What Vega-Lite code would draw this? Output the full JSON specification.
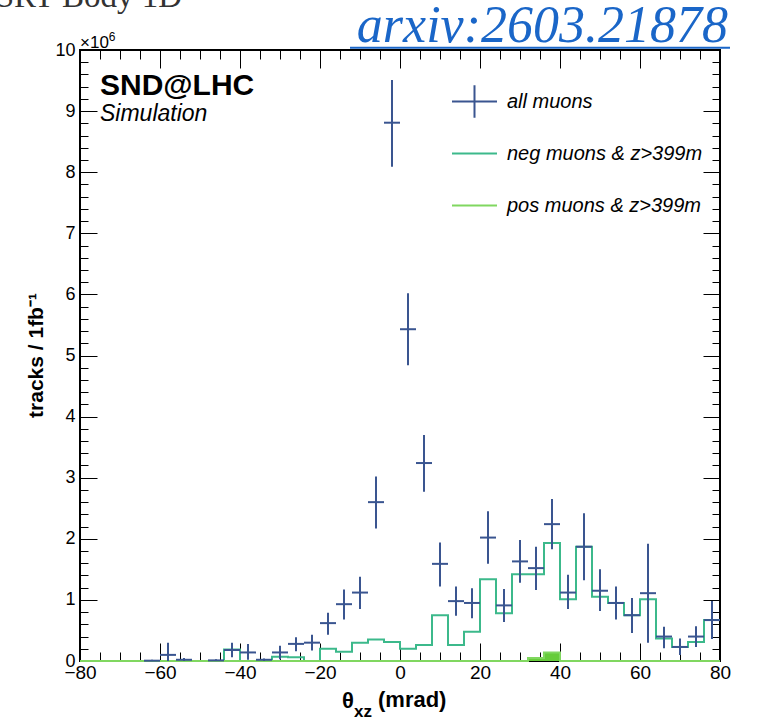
{
  "$schema": "https://vega.github.io/schema/vega-lite/v6.json",
  "width": 640,
  "height": 611,
  "autosize": "none",
  "padding": {"left": 80, "top": 50, "right": 45, "bottom": 60},
  "background": "white",
  "config": {
    "view": {"stroke": "black", "strokeWidth": 2},
    "font": "Liberation Sans",
    "axis": {"grid": false, "domain": false, "tickColor": "black", "tickWidth": 1, "labelColor": "black", "titleColor": "black", "labelFont": "Liberation Sans", "titleFont": "Liberation Sans"}
  },
  "datasets": {
    "allmu": [
      {"theta": -62, "tracks": 0.005, "lo": 0, "hi": 0.02, "x0": -64, "x1": -60},
      {"theta": -58, "tracks": 0.10, "lo": 0, "hi": 0.30, "x0": -60, "x1": -56},
      {"theta": -54, "tracks": 0.02, "lo": 0, "hi": 0.05, "x0": -56, "x1": -52},
      {"theta": -46, "tracks": 0.01, "lo": 0, "hi": 0.03, "x0": -48, "x1": -44},
      {"theta": -42, "tracks": 0.18, "lo": 0.06, "hi": 0.30, "x0": -44, "x1": -40},
      {"theta": -38, "tracks": 0.14, "lo": 0.02, "hi": 0.28, "x0": -40, "x1": -36},
      {"theta": -34, "tracks": 0.02, "lo": 0, "hi": 0.04, "x0": -36, "x1": -32},
      {"theta": -30, "tracks": 0.14, "lo": 0.03, "hi": 0.25, "x0": -32, "x1": -28},
      {"theta": -26, "tracks": 0.28, "lo": 0.16, "hi": 0.39, "x0": -28, "x1": -24},
      {"theta": -22, "tracks": 0.30, "lo": 0.17, "hi": 0.43, "x0": -24, "x1": -20},
      {"theta": -18, "tracks": 0.62, "lo": 0.43, "hi": 0.79, "x0": -20, "x1": -16},
      {"theta": -14, "tracks": 0.93, "lo": 0.68, "hi": 1.17, "x0": -16, "x1": -12},
      {"theta": -10, "tracks": 1.12, "lo": 0.85, "hi": 1.38, "x0": -12, "x1": -8},
      {"theta": -6, "tracks": 2.60, "lo": 2.17, "hi": 3.02, "x0": -8, "x1": -4},
      {"theta": -2, "tracks": 8.81, "lo": 8.09, "hi": 9.51, "x0": -4, "x1": 0},
      {"theta": 2, "tracks": 5.43, "lo": 4.84, "hi": 6.02, "x0": 0, "x1": 4},
      {"theta": 6, "tracks": 3.24, "lo": 2.77, "hi": 3.70, "x0": 4, "x1": 8},
      {"theta": 10, "tracks": 1.59, "lo": 1.22, "hi": 1.94, "x0": 8, "x1": 12},
      {"theta": 14, "tracks": 0.98, "lo": 0.74, "hi": 1.22, "x0": 12, "x1": 16},
      {"theta": 18, "tracks": 0.95, "lo": 0.70, "hi": 1.19, "x0": 16, "x1": 20},
      {"theta": 22, "tracks": 2.02, "lo": 1.59, "hi": 2.45, "x0": 20, "x1": 24},
      {"theta": 26, "tracks": 0.91, "lo": 0.64, "hi": 1.18, "x0": 24, "x1": 28},
      {"theta": 30, "tracks": 1.63, "lo": 1.28, "hi": 1.98, "x0": 28, "x1": 32},
      {"theta": 34, "tracks": 1.52, "lo": 1.16, "hi": 1.87, "x0": 32, "x1": 36},
      {"theta": 38, "tracks": 2.24, "lo": 1.83, "hi": 2.65, "x0": 36, "x1": 40},
      {"theta": 42, "tracks": 1.12, "lo": 0.85, "hi": 1.41, "x0": 40, "x1": 44},
      {"theta": 46, "tracks": 1.87, "lo": 1.32, "hi": 2.42, "x0": 44, "x1": 48},
      {"theta": 50, "tracks": 1.15, "lo": 0.82, "hi": 1.50, "x0": 48, "x1": 52},
      {"theta": 54, "tracks": 0.95, "lo": 0.68, "hi": 1.22, "x0": 52, "x1": 56},
      {"theta": 58, "tracks": 0.75, "lo": 0.46, "hi": 1.03, "x0": 56, "x1": 60},
      {"theta": 62, "tracks": 1.11, "lo": 0.30, "hi": 1.92, "x0": 60, "x1": 64},
      {"theta": 66, "tracks": 0.40, "lo": 0.21, "hi": 0.56, "x0": 64, "x1": 68},
      {"theta": 70, "tracks": 0.23, "lo": 0.10, "hi": 0.37, "x0": 68, "x1": 72},
      {"theta": 74, "tracks": 0.40, "lo": 0.23, "hi": 0.57, "x0": 72, "x1": 76},
      {"theta": 78, "tracks": 0.67, "lo": 0.36, "hi": 0.98, "x0": 76, "x1": 80}
    ],
    "neg": [
      {"edge": -80, "tracks": 0}, {"edge": -44, "tracks": 0.19}, {"edge": -40, "tracks": 0},
      {"edge": -32, "tracks": 0.07}, {"edge": -28, "tracks": 0.06}, {"edge": -24, "tracks": 0},
      {"edge": -20, "tracks": 0.20}, {"edge": -16, "tracks": 0.15}, {"edge": -12, "tracks": 0.30},
      {"edge": -8, "tracks": 0.35}, {"edge": -4, "tracks": 0.31}, {"edge": 0, "tracks": 0.20},
      {"edge": 4, "tracks": 0.26}, {"edge": 8, "tracks": 0.75}, {"edge": 12, "tracks": 0.26},
      {"edge": 16, "tracks": 0.48}, {"edge": 20, "tracks": 1.34}, {"edge": 24, "tracks": 0.78},
      {"edge": 28, "tracks": 1.42}, {"edge": 32, "tracks": 1.42}, {"edge": 36, "tracks": 1.93},
      {"edge": 40, "tracks": 1.01}, {"edge": 44, "tracks": 1.87}, {"edge": 48, "tracks": 1.05},
      {"edge": 52, "tracks": 0.95}, {"edge": 56, "tracks": 0.75}, {"edge": 60, "tracks": 1.01},
      {"edge": 64, "tracks": 0.37}, {"edge": 68, "tracks": 0.23}, {"edge": 72, "tracks": 0.31},
      {"edge": 76, "tracks": 0.67}, {"edge": 80, "tracks": 0.67}
    ],
    "pos": [
      {"edge": -80, "tracks": 0}, {"edge": 32, "tracks": 0.05}, {"edge": 36, "tracks": 0.14},
      {"edge": 40, "tracks": 0}, {"edge": 80, "tracks": 0}
    ]
  },
  "layer": [
    {
      "data": {"name": "neg"},
      "mark": {"type": "line", "interpolate": "step-after", "strokeWidth": 2},
      "encoding": {
        "x": {"field": "edge", "type": "quantitative", "scale": {"domain": [-80, 80], "nice": false, "zero": false},
              "axis": {"orient": "top", "values": [-80, -60, -40, -20, 0, 20, 40, 60, 80], "tickSize": -18, "labels": false, "title": null}},
        "y": {"field": "tracks", "type": "quantitative", "scale": {"domain": [0, 10], "nice": false},
              "axis": {"orient": "right", "values": [0, 1, 2, 3, 4, 5, 6, 7, 8, 9, 10], "tickSize": -17, "labels": false, "title": null}},
        "color": {"datum": "neg muons & z>399m", "type": "nominal",
                  "scale": {"domain": ["all muons", "neg muons & z>399m", "pos muons & z>399m"], "range": ["#3a5590", "#3cb98b", "#80d760"]},
                  "legend": {"title": null, "orient": "none", "legendX": 371, "legendY": 28, "symbolSize": 2025, "symbolStrokeWidth": 2, "labelFontSize": 20, "labelFontStyle": "italic", "labelFont": "Liberation Sans", "labelColor": "black", "labelOffset": 9, "labelLimit": 0, "rowPadding": 8, "padding": 0,
                             "encode": {"symbols": {"update": {"shape": {"signal": "datum.value === 'all muons' ? 'M-1,0H1M0,-0.72V0.72' : 'M-1,0H1M0,-0.72L0,-0.72M0,0.72L0,0.72'"}, "fill": {"value": "transparent"}, "strokeWidth": {"value": 2}}}}}}
      }
    },
    {
      "data": {"name": "pos"},
      "mark": {"type": "area", "interpolate": "step-after", "color": "#66cc3a", "opacity": 1},
      "encoding": {
        "x": {"field": "edge", "type": "quantitative",
              "axis": {"orient": "top", "values": [-75, -70, -65, -55, -50, -45, -35, -30, -25, -15, -10, -5, 5, 10, 15, 25, 30, 35, 45, 50, 55, 65, 70, 75], "tickSize": -9, "labels": false, "title": null}},
        "y": {"field": "tracks", "type": "quantitative",
              "axis": {"orient": "right", "values": [0.2, 0.4, 0.6, 0.8, 1.2, 1.4, 1.6, 1.8, 2.2, 2.4, 2.6, 2.8, 3.2, 3.4, 3.6, 3.8, 4.2, 4.4, 4.6, 4.8, 5.2, 5.4, 5.6, 5.8, 6.2, 6.4, 6.6, 6.8, 7.2, 7.4, 7.6, 7.8, 8.2, 8.4, 8.6, 8.8, 9.2, 9.4, 9.6, 9.8], "tickSize": -8, "labels": false, "title": null}}
      }
    },
    {
      "data": {"name": "pos"},
      "mark": {"type": "line", "interpolate": "step-after", "strokeWidth": 2},
      "encoding": {
        "x": {"field": "edge", "type": "quantitative", "axis": null},
        "y": {"field": "tracks", "type": "quantitative", "axis": null},
        "color": {"datum": "pos muons & z>399m", "type": "nominal"}
      }
    },
    {
      "data": {"name": "allmu"},
      "mark": {"type": "rule", "strokeWidth": 2},
      "encoding": {
        "x": {"field": "theta", "type": "quantitative",
              "axis": {"orient": "bottom", "values": [-80, -60, -40, -20, 0, 20, 40, 60, 80], "tickSize": -18, "labelPadding": 20, "labelFontSize": 19, "labelFlush": false, "title": null}},
        "y": {"field": "lo", "type": "quantitative",
              "axis": {"orient": "left", "values": [0, 1, 2, 3, 4, 5, 6, 7, 8, 9, 10], "tickSize": -17, "labelPadding": 22, "labelFontSize": 18,
                       "title": "tracks / 1fb⁻¹", "titleFontSize": 21, "titleFontWeight": "bold", "titleAngle": -90, "titleBaseline": "middle", "titleAlign": "center", "titleX": -44, "titleY": 305}},
        "y2": {"field": "hi"},
        "color": {"datum": "all muons", "type": "nominal"}
      }
    },
    {
      "data": {"name": "allmu"},
      "mark": {"type": "rule", "strokeWidth": 2},
      "encoding": {
        "x": {"field": "x0", "type": "quantitative",
              "axis": {"orient": "bottom", "values": [-75, -70, -65, -55, -50, -45, -35, -30, -25, -15, -10, -5, 5, 10, 15, 25, 30, 35, 45, 50, 55, 65, 70, 75], "tickSize": -9, "labels": false, "title": null}},
        "x2": {"field": "x1"},
        "y": {"field": "tracks", "type": "quantitative",
              "axis": {"orient": "left", "values": [0.2, 0.4, 0.6, 0.8, 1.2, 1.4, 1.6, 1.8, 2.2, 2.4, 2.6, 2.8, 3.2, 3.4, 3.6, 3.8, 4.2, 4.4, 4.6, 4.8, 5.2, 5.4, 5.6, 5.8, 6.2, 6.4, 6.6, 6.8, 7.2, 7.4, 7.6, 7.8, 8.2, 8.4, 8.6, 8.8, 9.2, 9.4, 9.6, 9.8], "tickSize": -8, "labels": false, "title": null}},
        "color": {"datum": "all muons", "type": "nominal"}
      }
    },
    {
      "data": {"values": [{"label": "SND@LHC"}]},
      "mark": {"type": "text", "font": "Liberation Sans", "fontWeight": "bold", "fontSize": 30, "align": "left", "baseline": "alphabetic", "color": "black"},
      "encoding": {"x": {"datum": -75, "type": "quantitative", "axis": null}, "y": {"datum": 9.26, "type": "quantitative", "axis": null}, "text": {"field": "label"}}
    },
    {
      "data": {"values": [{"label": "Simulation"}]},
      "mark": {"type": "text", "font": "Liberation Sans", "fontStyle": "italic", "fontSize": 23, "align": "left", "baseline": "alphabetic", "color": "black"},
      "encoding": {"x": {"datum": -75, "type": "quantitative", "axis": null}, "y": {"datum": 8.83, "type": "quantitative", "axis": null}, "text": {"field": "label"}}
    },
    {
      "data": {"values": [{"label": "×10"}]},
      "mark": {"type": "text", "font": "Liberation Sans", "fontSize": 17, "align": "left", "baseline": "alphabetic", "color": "black"},
      "encoding": {"x": {"datum": -80, "type": "quantitative", "axis": null}, "y": {"datum": 10.03, "type": "quantitative", "axis": null}, "text": {"field": "label"}}
    },
    {
      "data": {"values": [{"label": "6"}]},
      "mark": {"type": "text", "font": "Liberation Sans", "fontSize": 12, "align": "left", "baseline": "alphabetic", "color": "black"},
      "encoding": {"x": {"datum": -72.8, "type": "quantitative", "axis": null}, "y": {"datum": 10.14, "type": "quantitative", "axis": null}, "text": {"field": "label"}}
    },
    {
      "data": {"values": [{"label": "θ"}]},
      "mark": {"type": "text", "font": "Liberation Sans", "fontWeight": "bold", "fontSize": 22, "align": "right", "baseline": "alphabetic", "color": "black"},
      "encoding": {"x": {"datum": -11.5, "type": "quantitative", "axis": null}, "y": {"datum": -0.77, "type": "quantitative", "axis": null}, "text": {"field": "label"}}
    },
    {
      "data": {"values": [{"label": "xz"}]},
      "mark": {"type": "text", "font": "Liberation Sans", "fontWeight": "bold", "fontSize": 17, "align": "left", "baseline": "alphabetic", "color": "black"},
      "encoding": {"x": {"datum": -11.5, "type": "quantitative", "axis": null}, "y": {"datum": -0.92, "type": "quantitative", "axis": null}, "text": {"field": "label"}}
    },
    {
      "data": {"values": [{"label": "(mrad)"}]},
      "mark": {"type": "text", "font": "Liberation Sans", "fontWeight": "bold", "fontSize": 22, "align": "left", "baseline": "alphabetic", "color": "black"},
      "encoding": {"x": {"datum": -5.5, "type": "quantitative", "axis": null}, "y": {"datum": -0.753, "type": "quantitative", "axis": null}, "text": {"field": "label"}}
    },
    {
      "data": {"values": [{"label": "SRT Body 1D"}]},
      "mark": {"type": "text", "font": "Liberation Serif", "fontSize": 33, "align": "right", "baseline": "alphabetic", "color": "#333333"},
      "encoding": {"x": {"datum": -54.5, "type": "quantitative", "axis": null}, "y": {"datum": 10.70, "type": "quantitative", "axis": null}, "text": {"field": "label"}}
    },
    {
      "data": {"values": [{"label": "arxiv:2603.21878"}]},
      "mark": {"type": "text", "font": "Liberation Serif", "fontStyle": "italic", "fontSize": 52, "align": "right", "baseline": "alphabetic", "color": "#1a66c8"},
      "encoding": {"x": {"datum": 82, "type": "quantitative", "axis": null}, "y": {"datum": 10.13, "type": "quantitative", "axis": null}, "text": {"field": "label"}}
    },
    {
      "data": {"values": [{"label": "underline"}]},
      "mark": {"type": "rule", "color": "#1a66c8", "strokeWidth": 2},
      "encoding": {"x": {"datum": -12.5, "type": "quantitative", "axis": null}, "x2": {"datum": 82.5}, "y": {"datum": 10.035, "type": "quantitative", "axis": null}}
    }
  ],
  "resolve": {"axis": {"x": "independent", "y": "independent"}}
}
